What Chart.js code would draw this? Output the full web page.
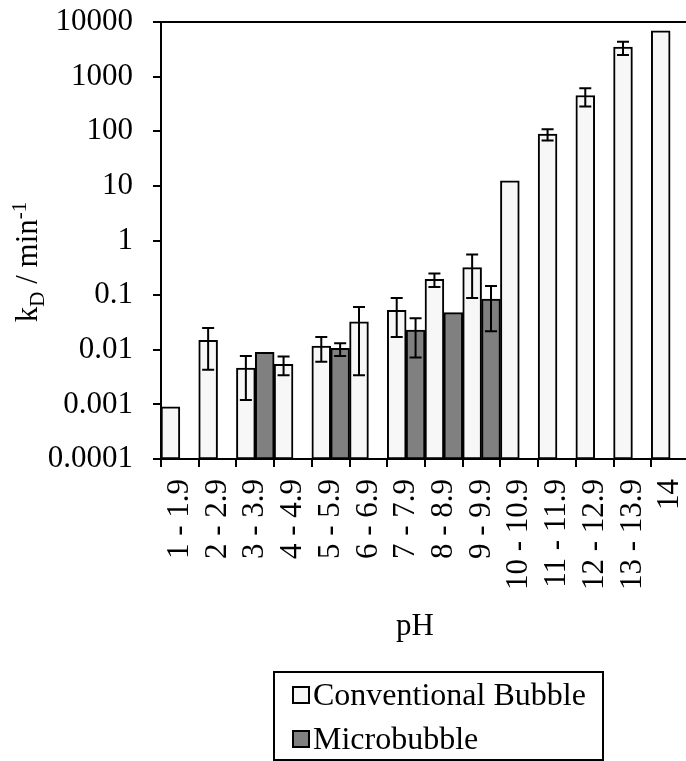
<!DOCTYPE html>
<html>
<head>
<meta charset="utf-8">
<script src="https://cdn.jsdelivr.net/npm/chart.js@4.4.1/dist/chart.umd.min.js"></script>
<style>
  html, body { margin: 0; padding: 0; background: #fff; overflow: hidden; }
  #wrap { width: 686px; height: 761px; overflow: hidden; }
</style>
</head>
<body>
<div id="wrap"><canvas id="kdChart" width="700" height="761"></canvas></div>
<script>
// pH ranges on the x axis
const categories = ['1 - 1.9', '2 - 2.9', '3 - 3.9', '4 - 4.9', '5 - 5.9', '6 - 6.9', '7 - 7.9',
  '8 - 8.9', '9 - 9.9', '10 - 10.9', '11 - 11.9', '12 - 12.9', '13 - 13.9', '14']

// kD values (min^-1)
const conventional = [0.0009, 0.0149, 0.0046, 0.0054, 0.0117, 0.0323, 0.0528, 0.195, 0.319, 12.4, 88.5, 451, 3470, 6900]
const conventionalLow = [null, 0.0043, 0.0012, 0.0034, 0.0060, 0.0034, 0.0172, 0.141, 0.089, null, 67.6, 283, 2480, null]
const conventionalHigh = [null, 0.0251, 0.0077, 0.0075, 0.0172, 0.0608, 0.0889, 0.248, 0.552, null, 109, 615, 4335, null]

const microbubble = [null, null, 0.0090, null, 0.0106, null, 0.0228, 0.0479, 0.085, null, null, null, null, null]
const microbubbleLow = [null, null, null, null, 0.0077, null, 0.0072, null, 0.0218, null, null, null, null, null]
const microbubbleHigh = [null, null, null, null, 0.0132, null, 0.0378, null, 0.147, null, null, null, null, null]

const yTickValues = [0.0001, 0.001, 0.01, 0.1, 1, 10, 100, 1000, 10000]
const yTickLabels = ['0.0001', '0.001', '0.01', '0.1', '1', '10', '100', '1000', '10000']

const seriesNames = ['Conventional Bubble', 'Microbubble']
const seriesColors = ['#f7f7f7', '#808080']
const xTitle = 'pH'

const serif = "'Liberation Serif', 'Times New Roman', serif"

Chart.defaults.font.family = serif
Chart.defaults.font.size = 31
Chart.defaults.color = '#000'

// error bars drawn from the y scale
const errorBars = {
    id: 'errorBars',
    afterDatasetsDraw(chart) {
        const ctx = chart.ctx
        const y = chart.scales.y
        const lows = [conventionalLow, microbubbleLow]
        const highs = [conventionalHigh, microbubbleHigh]
        ctx.save()
        ctx.strokeStyle = '#000'
        ctx.lineWidth = 2
        chart.data.datasets.forEach((ds, i) => {
            const meta = chart.getDatasetMeta(i)
            meta.data.forEach((bar, j) => {
                if (lows[i][j] == null) return
                const top = y.getPixelForValue(highs[i][j])
                const bottom = y.getPixelForValue(lows[i][j])
                ctx.beginPath()
                ctx.moveTo(bar.x, top)
                ctx.lineTo(bar.x, bottom)
                ctx.moveTo(bar.x - 6, top)
                ctx.lineTo(bar.x + 6, top)
                ctx.moveTo(bar.x - 6, bottom)
                ctx.lineTo(bar.x + 6, bottom)
                ctx.stroke()
            })
        })
        ctx.restore()
    }
}

// axis titles and the boxed legend
const titlesAndLegend = {
    id: 'titlesAndLegend',
    afterDraw(chart) {
        const ctx = chart.ctx
        ctx.save()
        ctx.fillStyle = '#000'

        // y title: k_D / min^-1
        const parts = [
            { t: 'k', size: 31, dy: 0 },
            { t: 'D', size: 21, dy: 7 },
            { t: ' / min', size: 31, dy: 0 },
            { t: '-1', size: 21, dy: -11 }
        ]
        let total = 0
        parts.forEach(p => {
            ctx.font = p.size + 'px ' + serif
            p.w = ctx.measureText(p.t).width
            total += p.w
        })
        ctx.translate(37, 262)
        ctx.rotate(-Math.PI / 2)
        ctx.textAlign = 'left'
        ctx.textBaseline = 'alphabetic'
        let x = -total / 2
        parts.forEach(p => {
            ctx.font = p.size + 'px ' + serif
            ctx.fillText(p.t, x, p.dy)
            x += p.w
        })
        ctx.setTransform(1, 0, 0, 1, 0, 0)

        // x title
        ctx.font = '31px ' + serif
        ctx.textAlign = 'center'
        ctx.textBaseline = 'middle'
        ctx.fillText(xTitle, 415, 627)

        // legend
        ctx.strokeStyle = '#000'
        ctx.lineWidth = 2
        ctx.strokeRect(274, 672, 329, 88)
        ctx.font = '32px ' + serif
        ctx.textAlign = 'left'
        ctx.textBaseline = 'alphabetic'
        seriesNames.forEach((name, i) => {
            const cy = 695 + i * 44
            ctx.fillStyle = seriesColors[i]
            ctx.fillRect(293, cy - 8, 16, 16)
            ctx.strokeRect(293, cy - 8, 16, 16)
            ctx.fillStyle = '#000'
            ctx.fillText(name, 313, cy + 10)
        })
        ctx.restore()
    }
}

new Chart(document.getElementById('kdChart'), {
    type: 'bar',
    data: {
        labels: categories,
        datasets: [
            {
                label: seriesNames[0],
                data: conventional,
                backgroundColor: seriesColors[0],
                borderColor: '#000',
                borderWidth: 2,
                borderSkipped: false
            },
            {
                label: seriesNames[1],
                data: microbubble,
                backgroundColor: seriesColors[1],
                borderColor: '#000',
                borderWidth: 2,
                borderSkipped: false
            }
        ]
    },
    options: {
        responsive: false,
        animation: false,
        layout: { padding: { top: 22, right: 11, left: 0, bottom: 0 } },
        datasets: { bar: { categoryPercentage: 1.0, barPercentage: 1.0 } },
        plugins: {
            legend: { display: false },
            tooltip: { enabled: false }
        },
        scales: {
            x: {
                grid: { drawOnChartArea: false, color: '#000', lineWidth: 2, tickLength: 8, offset: true },
                border: { color: '#000', width: 2 },
                ticks: { minRotation: 90, maxRotation: 90, autoSkip: false, padding: 12 },
                afterFit: axis => {
                    axis.height = 302
                    axis.paddingLeft = 0
                    axis.paddingRight = 0
                }
            },
            y: {
                type: 'logarithmic',
                min: 0.0001,
                max: 10000,
                grid: {
                    color: c => (c.tick && c.tick.value === 10000 ? '#000' : 'rgba(0,0,0,0)'),
                    tickColor: '#000',
                    lineWidth: 2,
                    tickLength: 8
                },
                border: { color: '#000', width: 2 },
                ticks: { padding: 20, callback: (v, i) => yTickLabels[i] },
                afterBuildTicks: axis => { axis.ticks = yTickValues.map(v => ({ value: v })) },
                afterFit: axis => {
                    axis.width = 161
                    axis.paddingTop = 0
                    axis.paddingBottom = 0
                }
            }
        }
    },
    plugins: [errorBars, titlesAndLegend]
})
</script>
</body>
</html>
